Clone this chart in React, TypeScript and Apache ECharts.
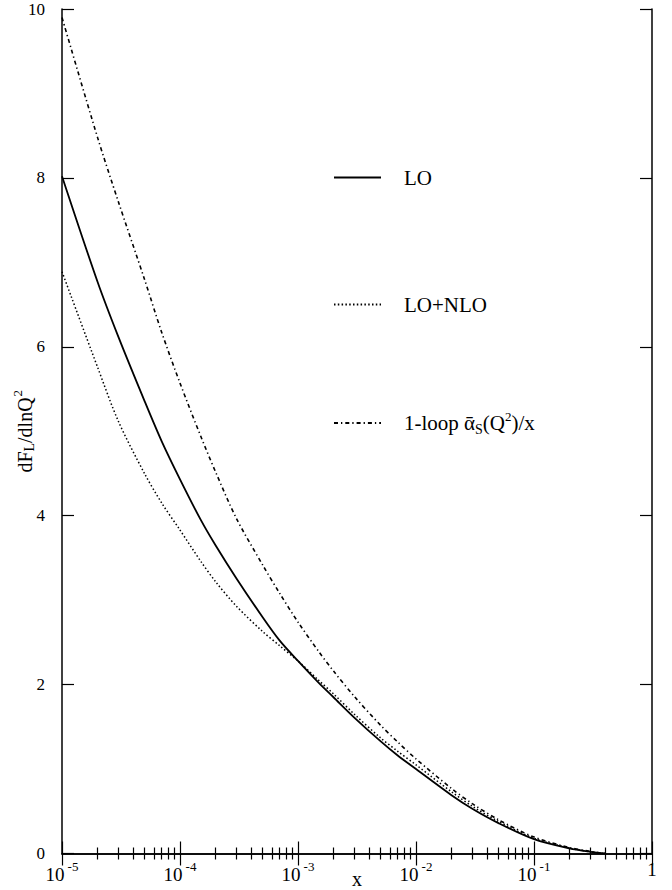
import React, { useEffect, useRef } from 'react';
import * as echarts from 'echarts';

const xValues = [1e-5, 2e-5, 3e-5, 5e-5, 7e-5, 1e-4, 1.5e-4, 2e-4, 3e-4, 5e-4, 7e-4, 1e-3, 1.5e-3, 2e-3, 3e-3, 5e-3, 7e-3, 1e-2, 2e-2, 3e-2, 5e-2, 0.1, 0.2, 0.3, 0.4];
const loValues = [8.02, 6.77, 6.12, 5.36, 4.88, 4.43, 3.95, 3.65, 3.26, 2.8, 2.52, 2.28, 2.02, 1.85, 1.61, 1.33, 1.16, 1.0, 0.69, 0.53, 0.36, 0.17, 0.06, 0.02, 0.0];
const loNloValues = [6.89, 5.76, 5.12, 4.5, 4.15, 3.83, 3.46, 3.22, 2.93, 2.63, 2.46, 2.28, 2.05, 1.89, 1.65, 1.37, 1.21, 1.05, 0.73, 0.56, 0.38, 0.18, 0.065, 0.02, 0.0];
const oneLoopValues = [9.9, 8.48, 7.72, 6.8, 6.17, 5.57, 4.94, 4.52, 3.97, 3.42, 3.08, 2.74, 2.39, 2.16, 1.86, 1.52, 1.32, 1.12, 0.77, 0.59, 0.4, 0.195, 0.07, 0.025, 0.0];

const seriesNames = ['LO', 'LO+NLO', '1-loop'];
const yTickValues = { min: 0, max: 10, interval: 2 };
const xRange = { min: 1e-5, max: 1 };

const FONT = "'Liberation Serif', 'DejaVu Serif', serif";

export default function App() {
  const ref = useRef<HTMLDivElement>(null);
  useEffect(() => {
    const chart = echarts.init(ref.current!, null, { renderer: 'svg' });
    const pairs = (ys: number[]) => xValues.map((x, i) => [x, ys[i]]);
    const xLabel = (v: number) => {
      const e = Math.round(Math.log10(v));
      return e === 0 ? '{b|1}' : `{b|10}{s|${e}}`;
    };
    const black = '#000';
    const tickStyle = { color: black, width: 1.2 };
    const legendBase = {
      orient: 'vertical',
      left: 333,
      padding: 0,
      itemWidth: 47,
      itemHeight: 14,
      selectedMode: false,
      itemStyle: { opacity: 0, borderWidth: 0 },
      textStyle: { fontFamily: FONT, fontSize: 21, color: black, padding: [0, 0, 0, 18] },
    };
    chart.setOption({
      animation: false,
      backgroundColor: '#fff',
      grid: { left: 62, right: 20, top: 9, bottom: 36.5, containLabel: false, outerBoundsMode: 'none' },
      legend: [
        { ...legendBase, top: 167, data: [seriesNames[0]] },
        { ...legendBase, top: 294, data: [seriesNames[1]] },
        {
          ...legendBase,
          top: 410,
          data: [seriesNames[2]],
          formatter: () => '{n|1-loop ᾱ}{sub|S}{n|(Q}{sup|2}{n|)/x}',
          textStyle: {
            ...legendBase.textStyle,
            rich: {
              n: { fontFamily: FONT, fontSize: 21, color: black },
              sub: { fontFamily: FONT, fontSize: 14, color: black, padding: [13, 0, 0, 0] },
              sup: { fontFamily: FONT, fontSize: 13, color: black, padding: [0, 0, 13, 0] },
            },
          },
        },
      ],
      xAxis: [
        {
          type: 'log',
          logBase: 10,
          min: xRange.min,
          max: xRange.max,
          position: 'bottom',
          name: 'x',
          nameLocation: 'middle',
          nameGap: 15,
          nameMoveOverlap: false,
          nameTextStyle: { fontFamily: FONT, fontSize: 20, color: black, verticalAlign: 'top', lineHeight: 20 },
          axisLine: { show: true, lineStyle: { color: black, width: 1.5 } },
          axisTick: { show: true, inside: true, length: 12, lineStyle: tickStyle },
          minorTick: { show: true, splitNumber: 9, length: 6, lineStyle: tickStyle },
          splitLine: { show: false },
          minorSplitLine: { show: false },
          axisLabel: {
            show: true,
            margin: 6,
            showMinLabel: true,
            showMaxLabel: true,
            formatter: xLabel,
            rich: {
              b: { fontFamily: FONT, fontSize: 19, color: black },
              s: { fontFamily: FONT, fontSize: 13, color: black, padding: [0, 0, 17, 3] },
            },
          },
        },
        {
          type: 'log',
          logBase: 10,
          min: xRange.min,
          max: xRange.max,
          position: 'top',
          axisLine: { show: true, lineStyle: { color: black, width: 1.5 } },
          axisTick: { show: true, inside: true, length: 12, lineStyle: tickStyle },
          minorTick: { show: true, splitNumber: 9, length: 6, lineStyle: tickStyle },
          splitLine: { show: false },
          minorSplitLine: { show: false },
          axisLabel: { show: false },
        },
      ],
      yAxis: [
        {
          type: 'value',
          min: yTickValues.min,
          max: yTickValues.max,
          interval: yTickValues.interval,
          position: 'left',
          name: '{n|dF}{sub|L}{n|/dlnQ}{sup|2}',
          nameLocation: 'middle',
          nameRotate: 90,
          nameGap: 24,
          nameMoveOverlap: false,
          nameTextStyle: {
            fontFamily: FONT,
            fontSize: 20,
            color: black,
            rich: {
              n: { fontFamily: FONT, fontSize: 20, color: black },
              sub: { fontFamily: FONT, fontSize: 14, color: black, padding: [10, 0, 0, 0] },
              sup: { fontFamily: FONT, fontSize: 13, color: black, padding: [0, 0, 14, 1] },
            },
          },
          axisLine: { show: true, lineStyle: { color: black, width: 1.5 } },
          axisTick: { show: true, inside: true, length: 12, lineStyle: tickStyle },
          splitLine: { show: false },
          axisLabel: { show: true, margin: 17, fontFamily: FONT, fontSize: 17, color: black },
        },
        {
          type: 'value',
          min: yTickValues.min,
          max: yTickValues.max,
          interval: yTickValues.interval,
          position: 'right',
          axisLine: { show: true, lineStyle: { color: black, width: 1.5 } },
          axisTick: { show: true, inside: true, length: 12, lineStyle: tickStyle },
          splitLine: { show: false },
          axisLabel: { show: false },
        },
      ],
      series: [
        {
          name: seriesNames[0],
          type: 'line',
          data: pairs(loValues),
          smooth: 0.3,
          symbol: 'none',
          showSymbol: false,
          lineStyle: { color: black, width: 1.8, type: 'solid' },
          itemStyle: { color: black },
        },
        {
          name: seriesNames[1],
          type: 'line',
          data: pairs(loNloValues),
          smooth: 0.3,
          symbol: 'none',
          showSymbol: false,
          lineStyle: { color: black, width: 1.5, type: [1.5, 2.3] },
          itemStyle: { color: black },
        },
        {
          name: seriesNames[2],
          type: 'line',
          data: pairs(oneLoopValues),
          smooth: 0.3,
          symbol: 'none',
          showSymbol: false,
          lineStyle: { color: black, width: 1.6, type: [4, 3, 1.3, 3] },
          itemStyle: { color: black },
        },
      ],
    });
    return () => chart.dispose();
  }, []);
  return (
    <div
      ref={ref}
      style={{ position: 'fixed', left: 0, top: 0, width: 672, height: 890, background: '#fff' }}
    />
  );
}
